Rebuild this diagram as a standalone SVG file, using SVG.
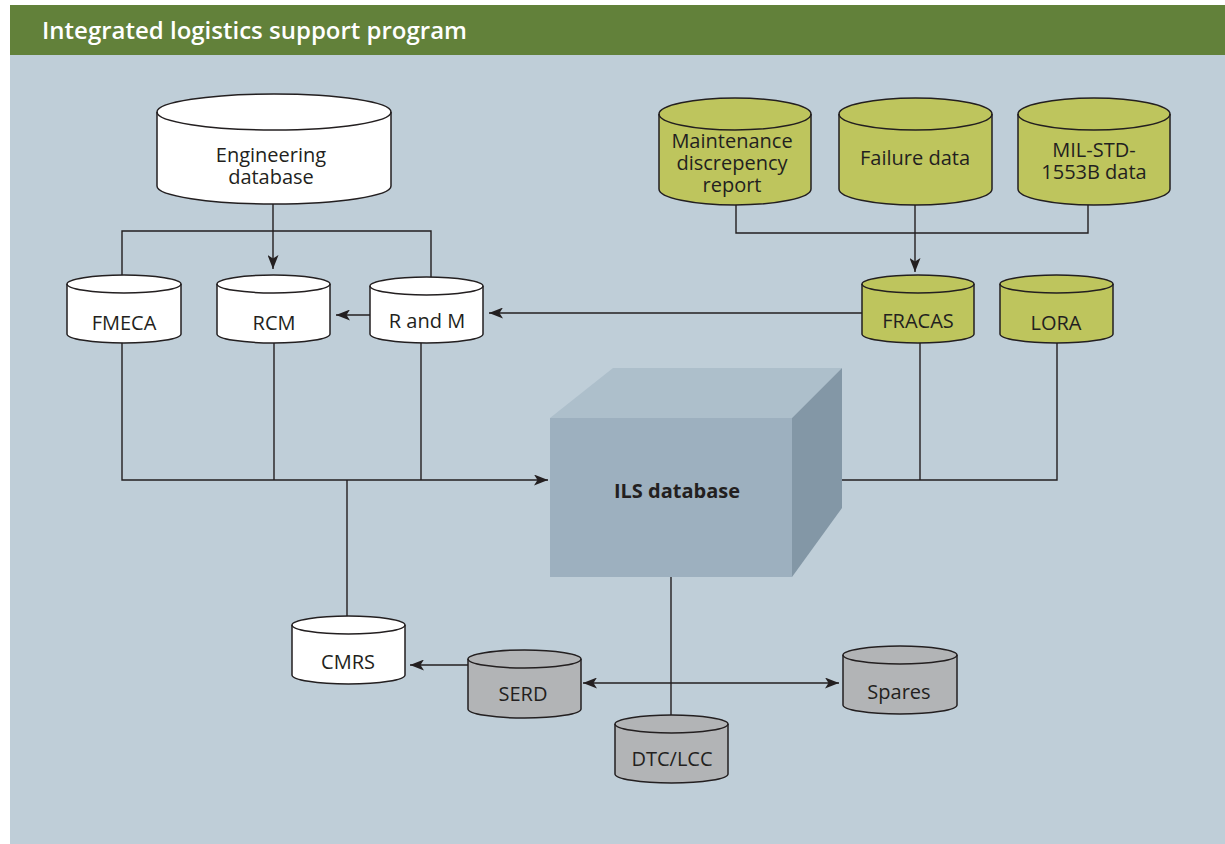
<svg xmlns="http://www.w3.org/2000/svg" width="1225" height="844" viewBox="0 0 1225 844">
<defs>
<style>
.cyl{stroke:#231f20;stroke-width:1.5}
.w{fill:#ffffff}.g{fill:#bec55d}.gr{fill:#b2b4b6}
.t{font-family:"Open Sans","Noto Sans",sans-serif;font-size:20px;fill:#231f20;text-anchor:middle}
.c{fill:none;stroke:#231f20;stroke-width:1.4}
</style>
<marker id="ah" viewBox="0 0 14 11" refX="14" refY="5.5" markerWidth="14" markerHeight="11" markerUnits="userSpaceOnUse" orient="auto-start-reverse">
<path d="M0,0 L14,5.5 L0,11 L3.5,5.5 Z" fill="#231f20"/>
</marker>
</defs>
<rect x="0" y="0" width="1225" height="844" fill="#ffffff"/>
<rect x="10" y="55" width="1215" height="789" fill="#bfced8"/>
<rect x="10" y="5" width="1215" height="50" fill="#62813a"/>
<text x="42" y="39" font-family="'Open Sans','Noto Sans',sans-serif" font-size="24" font-weight="600" fill="#ffffff">Integrated logistics support program</text>

<g id="connectors">
<path class="c" d="M273,204 V269" marker-end="url(#ah)"/>
<path class="c" d="M122,275 V231 H431 V278"/>
<path class="c" d="M370,315 H336" marker-end="url(#ah)"/>
<path class="c" d="M736,205 V233 H1088 V205"/>
<path class="c" d="M915,205 V272" marker-end="url(#ah)"/>
<path class="c" d="M862,313 H489" marker-end="url(#ah)"/>
<path class="c" d="M122,343 V480 H548" marker-end="url(#ah)"/>
<path class="c" d="M274,343 V480"/>
<path class="c" d="M421,343 V480"/>
<path class="c" d="M347,480 V616"/>
<path class="c" d="M842,480 H1057 V343"/>
<path class="c" d="M920,343 V480"/>
<path class="c" d="M671,577 V716"/>
<path class="c" d="M468,665 H410" marker-end="url(#ah)"/>
<path class="c" d="M583,683 H839" marker-start="url(#ah)" marker-end="url(#ah)"/>
</g>

<g id="ils">
<polygon points="550,418 613,368 842,368 792,418" fill="#adbfcb"/>
<polygon points="792,418 842,368 842,508 792,577" fill="#8397a6"/>
<rect x="550" y="418" width="242" height="159" fill="#9db0bf"/>
<text class="t" x="677" y="498" font-weight="bold">ILS database</text>
</g>

<g id="engineering">
<path class="cyl w" d="M157,112 A117,18 0 0 1 391,112 V186 A117,18 0 0 1 157,186 Z"/>
<path class="cyl" fill="none" d="M157,112 A117,18 0 0 0 391,112"/>
<text class="t" x="271" y="162">Engineering</text>
<text class="t" x="271" y="184">database</text>
</g>

<g id="fmeca">
<path class="cyl w" d="M67,284 A57,9 0 0 1 181,284 V334 A57,9 0 0 1 67,334 Z"/>
<path class="cyl" fill="none" d="M67,284 A57,9 0 0 0 181,284"/>
<text class="t" x="124" y="330">FMECA</text>
</g>
<g id="rcm">
<path class="cyl w" d="M217,284 A56.5,9 0 0 1 330,284 V334 A56.5,9 0 0 1 217,334 Z"/>
<path class="cyl" fill="none" d="M217,284 A56.5,9 0 0 0 330,284"/>
<text class="t" x="274" y="330">RCM</text>
</g>
<g id="randm">
<path class="cyl w" d="M370,286 A56.5,9 0 0 1 483,286 V334 A56.5,9 0 0 1 370,334 Z"/>
<path class="cyl" fill="none" d="M370,286 A56.5,9 0 0 0 483,286"/>
<text class="t" x="427" y="328">R and M</text>
</g>

<g id="maintenance">
<path class="cyl g" d="M659,114 A76,16 0 0 1 811,114 V189 A76,16 0 0 1 659,189 Z"/>
<path class="cyl" fill="none" d="M659,114 A76,16 0 0 0 811,114"/>
<text class="t" x="732" y="148">Maintenance</text>
<text class="t" x="732" y="170">discrepency</text>
<text class="t" x="732" y="192">report</text>
</g>
<g id="failure">
<path class="cyl g" d="M839,114 A76.5,16 0 0 1 992,114 V189 A76.5,16 0 0 1 839,189 Z"/>
<path class="cyl" fill="none" d="M839,114 A76.5,16 0 0 0 992,114"/>
<text class="t" x="915" y="165">Failure data</text>
</g>
<g id="milstd">
<path class="cyl g" d="M1018,114 A76,16 0 0 1 1170,114 V189 A76,16 0 0 1 1018,189 Z"/>
<path class="cyl" fill="none" d="M1018,114 A76,16 0 0 0 1170,114"/>
<text class="t" x="1094" y="157">MIL-STD-</text>
<text class="t" x="1094" y="179">1553B data</text>
</g>
<g id="fracas">
<path class="cyl g" d="M862,284 A56,9 0 0 1 974,284 V334 A56,9 0 0 1 862,334 Z"/>
<path class="cyl" fill="none" d="M862,284 A56,9 0 0 0 974,284"/>
<text class="t" x="918" y="328">FRACAS</text>
</g>
<g id="lora">
<path class="cyl g" d="M1000,284 A56.5,9 0 0 1 1113,284 V334 A56.5,9 0 0 1 1000,334 Z"/>
<path class="cyl" fill="none" d="M1000,284 A56.5,9 0 0 0 1113,284"/>
<text class="t" x="1056" y="330">LORA</text>
</g>

<g id="cmrs">
<path class="cyl w" d="M292,625 A56.5,9 0 0 1 405,625 V675 A56.5,9 0 0 1 292,675 Z"/>
<path class="cyl" fill="none" d="M292,625 A56.5,9 0 0 0 405,625"/>
<text class="t" x="348" y="669">CMRS</text>
</g>
<g id="serd">
<path class="cyl gr" d="M468,659 A56.5,9 0 0 1 581,659 V709 A56.5,9 0 0 1 468,709 Z"/>
<path class="cyl" fill="none" d="M468,659 A56.5,9 0 0 0 581,659"/>
<text class="t" x="523" y="701">SERD</text>
</g>
<g id="dtclcc">
<path class="cyl gr" d="M615,724 A56.5,9 0 0 1 728,724 V774 A56.5,9 0 0 1 615,774 Z"/>
<path class="cyl" fill="none" d="M615,724 A56.5,9 0 0 0 728,724"/>
<text class="t" x="672" y="766">DTC/LCC</text>
</g>
<g id="spares">
<path class="cyl gr" d="M843,655 A57,9 0 0 1 957,655 V705 A57,9 0 0 1 843,705 Z"/>
<path class="cyl" fill="none" d="M843,655 A57,9 0 0 0 957,655"/>
<text class="t" x="899" y="699">Spares</text>
</g>
</svg>
